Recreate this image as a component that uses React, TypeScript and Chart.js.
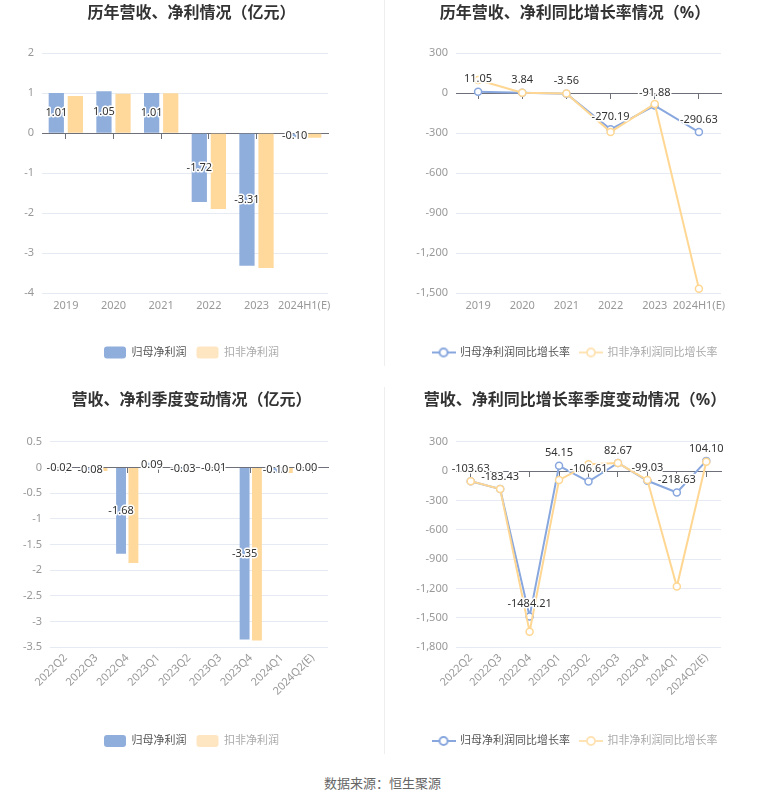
import React, { useEffect, useRef } from 'react';
import { Chart, registerables } from 'chart.js';

Chart.register(...registerables);

const FONT = '"Noto Sans", "Noto Sans CJK SC", sans-serif';
Chart.defaults.font.family = FONT;
Chart.defaults.font.size = 11;

// ---------- data ----------
const annualLabels = ['2019', '2020', '2021', '2022', '2023', '2024H1(E)'];
const annualNetProfit = [1.01, 1.05, 1.01, -1.72, -3.31, -0.1];
const annualDeductedProfit = [0.93, 0.99, 1.0, -1.89, -3.37, -0.11];
const annualProfitTicks = { min: -4, max: 2, step: 1 };

const annualNetGrowth = [11.05, 3.84, -3.56, -270.19, -91.88, -290.63];
const annualDeductedGrowth = [100, 5, -2, -290, -80, -1465];
const annualGrowthTicks = { min: -1500, max: 300, step: 300 };

const quarterLabels = ['2022Q2', '2022Q3', '2022Q4', '2023Q1', '2023Q2', '2023Q3', '2023Q4', '2024Q1', '2024Q2(E)'];
const quarterNetProfit = [-0.02, -0.08, -1.68, 0.09, -0.03, -0.01, -3.35, -0.1, 0.0];
const quarterDeductedProfit = [-0.01, -0.07, -1.86, 0.01, 0.0, 0.0, -3.37, -0.11, 0.0];
const quarterProfitTicks = { min: -3.5, max: 0.5, step: 0.5 };

const quarterNetGrowth = [-103.63, -183.43, -1484.21, 54.15, -106.61, 82.67, -99.03, -218.63, 104.1];
const quarterDeductedGrowth = [-103, -183, -1640, -92, 70, 82, -92, -1180, 95];
const quarterGrowthTicks = { min: -1800, max: 300, step: 300 };

const seriesNames = ['归母净利润', '扣非净利润'];
const growthNames = ['归母净利润同比增长率', '扣非净利润同比增长率'];
const titles = [
  '历年营收、净利情况（亿元）',
  '历年营收、净利同比增长率情况（%）',
  '营收、净利季度变动情况（亿元）',
  '营收、净利同比增长率季度变动情况（%）',
];

// ---------- styles ----------
const BLUE_BAR = '#8FAEDC';
const YELLOW_BAR = '#FFD99C';
const BLUE_LINE = '#88A7DE';
const YELLOW_LINE = '#FFD793';
const GRID = '#E6EAF3';
const AXIS = '#6E7079';
const TICK = '#999999';

const valueLabelPlugin = {
  id: 'valueLabels',
  afterDatasetsDraw(chart: any, _args: any, opts: any) {
    if (!opts || !opts.enabled) return;
    const { ctx } = chart;
    const meta = chart.getDatasetMeta(opts.datasetIndex);
    const data = chart.data.datasets[opts.datasetIndex].data as number[];
    ctx.save();
    ctx.font = `${opts.size}px ${FONT}`;
    ctx.textAlign = 'center';
    ctx.textBaseline = 'middle';
    ctx.lineJoin = 'round';
    meta.data.forEach((el: any, i: number) => {
      const v = data[i];
      const text = (Math.abs(v) < 1e-9 ? 0 : v).toFixed(2);
      let x: number, y: number;
      if (opts.mode === 'center') {
        const p = el.getCenterPoint();
        x = p.x;
        y = p.y;
      } else {
        x = el.x;
        y = el.y - opts.offset;
      }
      ctx.strokeStyle = '#ffffff';
      ctx.lineWidth = 3;
      ctx.strokeText(text, x, y);
      ctx.fillStyle = '#333333';
      ctx.fillText(text, x, y);
    });
    ctx.restore();
  },
};

function lineIcon(color: string) {
  const c = document.createElement('canvas');
  c.width = 24;
  c.height = 12;
  const g = c.getContext('2d')!;
  g.strokeStyle = color;
  g.lineWidth = 2;
  g.beginPath();
  g.moveTo(0, 6);
  g.lineTo(24, 6);
  g.stroke();
  g.beginPath();
  g.arc(12, 6, 4, 0, Math.PI * 2);
  g.fillStyle = '#ffffff';
  g.fill();
  g.stroke();
  return c;
}

type Spec = {
  kind: 'bar' | 'line';
  labels: string[];
  series: number[][];
  names: string[];
  title: string;
  ticks: { min: number; max: number; step: number };
  leftW: number;
  rightW: number;
  canvasH: number;
  chartTop: number;
  chartBottom: number;
  legendCenter: number;
  rotate: number;
  xPad: number;
};

function buildConfig(s: Spec): any {
  const isBar = s.kind === 'bar';
  const itemH = isBar ? 12 : 11;
  const legendPad = 10;
  const legendTop = s.legendCenter - legendPad - itemH / 2;
  const xH = legendTop - s.chartBottom;
  const padBottom = s.canvasH - (legendTop + itemH + legendPad + 10);
  const titlePadTop = 3.4;
  const titlePadBottom = s.chartTop - titlePadTop - 19.2;

  const colors = isBar ? [BLUE_BAR, YELLOW_BAR] : [BLUE_LINE, YELLOW_LINE];
  const legendColors = isBar ? [BLUE_BAR, '#FFE6C2'] : [BLUE_LINE, '#FFE3B5'];
  const icons = isBar ? [] : [lineIcon(legendColors[0]), lineIcon(legendColors[1])];

  const datasets = s.series.map((d, i) =>
    isBar
      ? {
          label: s.names[i],
          data: d,
          backgroundColor: colors[i],
          borderWidth: 0,
          categoryPercentage: 0.8,
          barPercentage: 0.8,
          xAxisID: 'x',
          yAxisID: 'y',
        }
      : {
          label: s.names[i],
          data: d,
          borderColor: colors[i],
          backgroundColor: '#ffffff',
          borderWidth: 2,
          pointRadius: 3.5,
          pointBorderWidth: 1.5,
          pointBackgroundColor: '#ffffff',
          pointBorderColor: colors[i],
          tension: 0,
          order: 2 - i,
          xAxisID: 'x',
          yAxisID: 'y',
        }
  );

  const fmt = (v: number) => (Math.abs(v) < 1e-9 ? '0' : Number(v).toLocaleString('en-US'));

  return {
    type: s.kind,
    data: { labels: s.labels, datasets },
    plugins: [valueLabelPlugin],
    options: {
      animation: false,
      responsive: false,
      maintainAspectRatio: false,
      events: [],
      layout: { padding: { left: 0, right: 0, top: 0, bottom: padBottom } },
      plugins: {
        title: {
          display: true,
          text: s.title,
          color: '#333333',
          font: { size: 16, weight: 'bold', family: FONT },
          padding: { top: titlePadTop, bottom: titlePadBottom },
        },
        legend: {
          display: true,
          position: 'bottom',
          labels: {
            padding: legendPad,
            font: { size: 11, family: FONT },
            boxWidth: 22,
            boxHeight: 12,
            useBorderRadius: true,
            borderRadius: 3,
            usePointStyle: !isBar,
            pointStyleWidth: isBar ? undefined : 22,
            generateLabels: () =>
              s.names.map((n, i) => ({
                text: n,
                fillStyle: legendColors[i],
                strokeStyle: legendColors[i],
                lineWidth: 0,
                fontColor: i === 0 ? '#555555' : '#aaaaaa',
                hidden: false,
                datasetIndex: i,
                borderRadius: 3,
                pointStyle: isBar ? undefined : icons[i],
              })),
          },
        },
        tooltip: { enabled: false },
        valueLabels: {
          enabled: true,
          datasetIndex: 0,
          mode: isBar ? 'center' : 'above',
          offset: 12.5,
          size: 11,
        },
      },
      scales: {
        x: {
          type: 'category',
          position: 'bottom',
          offset: true,
          grid: { display: false, drawTicks: false },
          border: { display: false },
          ticks: {
            color: TICK,
            font: { size: 11 },
            padding: s.xPad,
            autoSkip: false,
            maxRotation: s.rotate,
            minRotation: s.rotate,
          },
          afterFit: (sc: any) => {
            sc.height = xH;
          },
        },
        x2: {
          type: 'category',
          position: { y: 0 },
          offset: true,
          grid: {
            display: true,
            drawOnChartArea: false,
            drawTicks: true,
            tickLength: 5,
            offset: false,
            color: AXIS,
            lineWidth: 1,
          },
          border: { display: true, color: AXIS, width: 1 },
          ticks: { display: false },
        },
        y: {
          type: 'linear',
          position: 'left',
          min: s.ticks.min,
          max: s.ticks.max,
          grid: {
            color: (c: any) => (c.tick && Math.abs(c.tick.value) < 1e-9 ? AXIS : GRID),
            drawTicks: false,
            lineWidth: 1,
          },
          border: { display: false },
          ticks: {
            stepSize: s.ticks.step,
            color: TICK,
            font: { size: 11 },
            padding: 8,
            callback: (v: any) => fmt(Number(v)),
          },
          afterFit: (sc: any) => {
            sc.width = s.leftW;
          },
        },
        yR: {
          type: 'linear',
          position: 'right',
          display: true,
          grid: { display: false, drawTicks: false },
          border: { display: false },
          ticks: { display: false },
          afterFit: (sc: any) => {
            sc.width = s.rightW;
          },
        },
      },
    },
  };
}

function ChartBox(props: { left: number; top: number; width: number; height: number; spec: Spec }) {
  const ref = useRef<HTMLCanvasElement | null>(null);
  useEffect(() => {
    if (!ref.current) return;
    const chart = new Chart(ref.current, buildConfig(props.spec));
    return () => chart.destroy();
  }, []);
  return (
    <div
      style={{
        position: 'absolute',
        left: props.left,
        top: props.top,
        width: props.width,
        height: props.height,
      }}
    >
      <canvas ref={ref} width={props.width} height={props.height} style={{ width: props.width, height: props.height, display: 'block' }} />
    </div>
  );
}

const CANVAS_H = 375;

const spec1: Spec = {
  kind: 'bar',
  labels: annualLabels,
  series: [annualNetProfit, annualDeductedProfit],
  names: seriesNames,
  title: titles[0],
  ticks: annualProfitTicks,
  leftW: 42,
  rightW: 55,
  canvasH: CANVAS_H,
  chartTop: 53.3,
  chartBottom: 293.3,
  legendCenter: 352.5,
  rotate: 0,
  xPad: 6,
};
const spec2: Spec = {
  kind: 'line',
  labels: annualLabels,
  series: [annualNetGrowth, annualDeductedGrowth],
  names: growthNames,
  title: titles[1],
  ticks: annualGrowthTicks,
  leftW: 71,
  rightW: 44,
  canvasH: CANVAS_H,
  chartTop: 53.3,
  chartBottom: 293.3,
  legendCenter: 352.5,
  rotate: 0,
  xPad: 6,
};
const spec3: Spec = {
  kind: 'bar',
  labels: quarterLabels,
  series: [quarterNetProfit, quarterDeductedProfit],
  names: seriesNames,
  title: titles[2],
  ticks: quarterProfitTicks,
  leftW: 50,
  rightW: 55,
  canvasH: CANVAS_H,
  chartTop: 54.7,
  chartBottom: 260.3,
  legendCenter: 354,
  rotate: 45,
  xPad: 4,
};
const spec4: Spec = {
  kind: 'line',
  labels: quarterLabels,
  series: [quarterNetGrowth, quarterDeductedGrowth],
  names: growthNames,
  title: titles[3],
  ticks: quarterGrowthTicks,
  leftW: 71,
  rightW: 44,
  canvasH: CANVAS_H,
  chartTop: 54.7,
  chartBottom: 260.3,
  legendCenter: 354,
  rotate: 45,
  xPad: 4,
};

export default function App() {
  return (
    <div
      style={{
        position: 'absolute',
        left: 0,
        top: 0,
        width: 765,
        height: 801,
        background: '#ffffff',
        fontFamily: FONT,
        overflow: 'hidden',
      }}
    >
      <ChartBox left={0} top={0} width={383} height={CANVAS_H} spec={spec1} />
      <ChartBox left={385} top={0} width={380} height={CANVAS_H} spec={spec2} />
      <ChartBox left={0} top={387} width={383} height={CANVAS_H} spec={spec3} />
      <ChartBox left={385} top={387} width={380} height={CANVAS_H} spec={spec4} />
      <div style={{ position: 'absolute', left: 384, top: 0, width: 1, height: 366, background: '#EEEEEE' }} />
      <div style={{ position: 'absolute', left: 384, top: 387, width: 1, height: 367, background: '#EEEEEE' }} />
      <div
        style={{
          position: 'absolute',
          left: 0,
          top: 775,
          width: 765,
          textAlign: 'center',
          fontSize: 13,
          lineHeight: '16px',
          color: '#666666',
        }}
      >
        数据来源：恒生聚源
      </div>
    </div>
  );
}
